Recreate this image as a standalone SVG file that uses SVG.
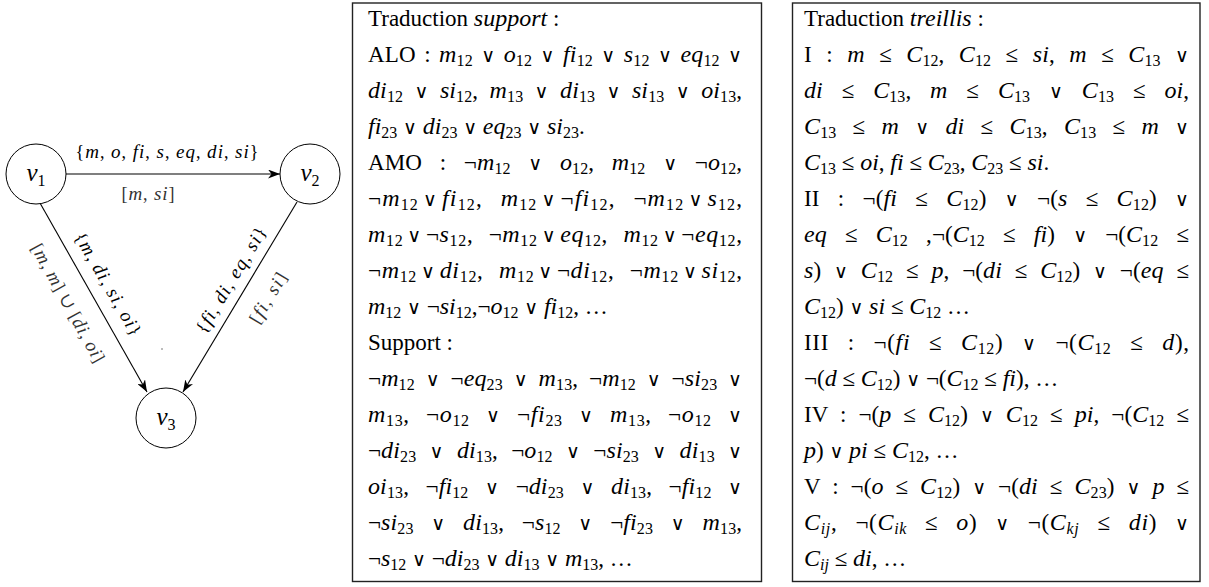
<svg xmlns="http://www.w3.org/2000/svg" width="1209" height="587" viewBox="0 0 1209 587">
<style>
.t{font-family:"Liberation Serif","DejaVu Serif",serif;font-size:23px;fill:#000;font-variant-ligatures:none}
.i{font-style:italic;font-size:24px}
.s{font-size:16px;font-style:normal;baseline-shift:-4px}
.si{font-size:16px;font-style:italic;baseline-shift:-4px}
.v{font-family:"DejaVu Sans",sans-serif;font-size:19px;font-style:normal}
.box{fill:#fff;stroke:#222;stroke-width:1.4}
.node{fill:#fff;stroke:#000;stroke-width:1}
.edge{fill:none;stroke:#000;stroke-width:1.1}
.lb{font-family:"Liberation Serif","DejaVu Serif",serif;font-size:18px;fill:#000;font-variant-ligatures:none}
.lb .i{font-size:19px}
.gr{fill:#333}
.nl{font-family:"Liberation Serif","DejaVu Serif",serif;font-size:25px;font-style:italic}
.ns{font-size:16px;font-style:normal;baseline-shift:-5px}
</style>
<defs>
<marker id="arr" markerUnits="userSpaceOnUse" markerWidth="13" markerHeight="9" refX="12" refY="4.5" orient="auto">
<path d="M0,0 L12,4.5 L0,9 L3.5,4.5 z" fill="#000"/>
</marker>
</defs>
<rect width="1209" height="587" fill="#fff"/>

<g id="connectors">
<line class="edge" x1="66" y1="174" x2="280" y2="174" marker-end="url(#arr)"/>
<line class="edge" x1="40" y1="203" x2="147" y2="392" marker-end="url(#arr)"/>
<line class="edge" x1="297" y1="202" x2="183" y2="392" marker-end="url(#arr)"/>
<text class="lb" x="167" y="158" text-anchor="middle" textLength="183" lengthAdjust="spacing">{<tspan class="i">m</tspan>, <tspan class="i">o</tspan>, <tspan class="i">fi</tspan>, <tspan class="i">s</tspan>, <tspan class="i">eq</tspan>, <tspan class="i">di</tspan>, <tspan class="i">si</tspan>}</text>
<text class="lb gr" x="148" y="200" text-anchor="middle" textLength="53" lengthAdjust="spacing">[<tspan class="i">m</tspan>, <tspan class="i">si</tspan>]</text>
<g transform="translate(108,284) rotate(60)"><text class="lb" x="0" y="6" text-anchor="middle" textLength="116" lengthAdjust="spacing">{<tspan class="i">m</tspan>, <tspan class="i">di</tspan>, <tspan class="i">si</tspan>, <tspan class="i">oi</tspan>}</text></g>
<g transform="translate(68,303) rotate(61)"><text class="lb gr" x="0" y="6" text-anchor="middle" textLength="133" lengthAdjust="spacing">[<tspan class="i">m</tspan>, <tspan class="i">m</tspan>] ∪ [<tspan class="i">di</tspan>, <tspan class="i">oi</tspan>]</text></g>
<g transform="translate(231,280) rotate(-59)"><text class="lb" x="0" y="6" text-anchor="middle" textLength="120" lengthAdjust="spacing">{<tspan class="i">fi</tspan>, <tspan class="i">di</tspan>, <tspan class="i">eq</tspan>, <tspan class="i">si</tspan>}</text></g>
<g transform="translate(268,298) rotate(-59)"><text class="lb gr" x="0" y="6" text-anchor="middle" textLength="56" lengthAdjust="spacing">[<tspan class="i">fi</tspan>, <tspan class="i">si</tspan>]</text></g>
<circle cx="162" cy="349" r="0.8" fill="#666"/>
</g>

<g id="node-v1"><circle class="node" cx="36" cy="174" r="30"/><text class="nl" x="36" y="181" text-anchor="middle">v<tspan class="ns">1</tspan></text></g>
<g id="node-v2"><circle class="node" cx="310" cy="174" r="30"/><text class="nl" x="310" y="181" text-anchor="middle">v<tspan class="ns">2</tspan></text></g>
<g id="node-v3"><circle class="node" cx="166" cy="418" r="30"/><text class="nl" x="166" y="425" text-anchor="middle">v<tspan class="ns">3</tspan></text></g>

<g id="box-support">
<rect class="box" x="352.5" y="3" width="409" height="578.5"/>
<text class="t" x="368" y="26">Traduction <tspan class="i">support</tspan> :</text>
<text class="t" x="368" y="62" style="word-spacing:2.5px" textLength="374" lengthAdjust="spacing">ALO : <tspan class="i">m</tspan><tspan class="s">12</tspan> <tspan class="v">∨</tspan> <tspan class="i">o</tspan><tspan class="s">12</tspan> <tspan class="v">∨</tspan> <tspan class="i">fi</tspan><tspan class="s">12</tspan> <tspan class="v">∨</tspan> <tspan class="i">s</tspan><tspan class="s">12</tspan> <tspan class="v">∨</tspan> <tspan class="i">eq</tspan><tspan class="s">12</tspan> <tspan class="v">∨</tspan></text>
<text class="t" x="368" y="98" style="word-spacing:5.5px" textLength="374" lengthAdjust="spacing"><tspan class="i">di</tspan><tspan class="s">12</tspan> <tspan class="v">∨</tspan> <tspan class="i">si</tspan><tspan class="s">12</tspan>, <tspan class="i">m</tspan><tspan class="s">13</tspan> <tspan class="v">∨</tspan> <tspan class="i">di</tspan><tspan class="s">13</tspan> <tspan class="v">∨</tspan> <tspan class="i">si</tspan><tspan class="s">13</tspan> <tspan class="v">∨</tspan> <tspan class="i">oi</tspan><tspan class="s">13</tspan>,</text>
<text class="t" x="368" y="134"><tspan class="i">fi</tspan><tspan class="s">23</tspan> <tspan class="v">∨</tspan> <tspan class="i">di</tspan><tspan class="s">23</tspan> <tspan class="v">∨</tspan> <tspan class="i">eq</tspan><tspan class="s">23</tspan> <tspan class="v">∨</tspan> <tspan class="i">si</tspan><tspan class="s">23</tspan>.</text>
<text class="t" x="368" y="170" style="word-spacing:11.8px" textLength="374" lengthAdjust="spacing">AMO : ¬<tspan class="i">m</tspan><tspan class="s">12</tspan> <tspan class="v">∨</tspan> <tspan class="i">o</tspan><tspan class="s">12</tspan>, <tspan class="i">m</tspan><tspan class="s">12</tspan> <tspan class="v">∨</tspan> ¬<tspan class="i">o</tspan><tspan class="s">12</tspan>,</text>
<text class="t" x="368" y="206" style="word-spacing:11px" textLength="374" lengthAdjust="spacing">¬<tspan class="i">m</tspan><tspan class="s">12</tspan><tspan class="v" dx="4">∨</tspan><tspan class="i" dx="4">fi</tspan><tspan class="s">12</tspan>, <tspan class="i">m</tspan><tspan class="s">12</tspan><tspan class="v" dx="4">∨</tspan><tspan dx="4">¬</tspan><tspan class="i">fi</tspan><tspan class="s">12</tspan>, ¬<tspan class="i">m</tspan><tspan class="s">12</tspan><tspan class="v" dx="4">∨</tspan><tspan class="i" dx="4">s</tspan><tspan class="s">12</tspan>,</text>
<text class="t" x="368" y="242" style="word-spacing:9px" textLength="374" lengthAdjust="spacing"><tspan class="i">m</tspan><tspan class="s">12</tspan><tspan class="v" dx="4">∨</tspan><tspan dx="4">¬</tspan><tspan class="i">s</tspan><tspan class="s">12</tspan>, ¬<tspan class="i">m</tspan><tspan class="s">12</tspan><tspan class="v" dx="4">∨</tspan><tspan class="i" dx="4">eq</tspan><tspan class="s">12</tspan>, <tspan class="i">m</tspan><tspan class="s">12</tspan><tspan class="v" dx="4">∨</tspan><tspan dx="4">¬</tspan><tspan class="i">eq</tspan><tspan class="s">12</tspan>,</text>
<text class="t" x="368" y="278" style="word-spacing:9px" textLength="374" lengthAdjust="spacing">¬<tspan class="i">m</tspan><tspan class="s">12</tspan><tspan class="v" dx="4">∨</tspan><tspan class="i" dx="4">di</tspan><tspan class="s">12</tspan>, <tspan class="i">m</tspan><tspan class="s">12</tspan><tspan class="v" dx="4">∨</tspan><tspan dx="4">¬</tspan><tspan class="i">di</tspan><tspan class="s">12</tspan>, ¬<tspan class="i">m</tspan><tspan class="s">12</tspan><tspan class="v" dx="4">∨</tspan><tspan class="i" dx="4">si</tspan><tspan class="s">12</tspan>,</text>
<text class="t" x="368" y="314"><tspan class="i">m</tspan><tspan class="s">12</tspan> <tspan class="v">∨</tspan> ¬<tspan class="i">si</tspan><tspan class="s">12</tspan>,¬<tspan class="i">o</tspan><tspan class="s">12</tspan> <tspan class="v">∨</tspan> <tspan class="i">fi</tspan><tspan class="s">12</tspan>, …</text>
<text class="t" x="368" y="350">Support :</text>
<text class="t" x="368" y="386" style="word-spacing:4.9px" textLength="374" lengthAdjust="spacing">¬<tspan class="i">m</tspan><tspan class="s">12</tspan> <tspan class="v">∨</tspan> ¬<tspan class="i">eq</tspan><tspan class="s">23</tspan> <tspan class="v">∨</tspan> <tspan class="i">m</tspan><tspan class="s">13</tspan>, ¬<tspan class="i">m</tspan><tspan class="s">12</tspan> <tspan class="v">∨</tspan> ¬<tspan class="i">si</tspan><tspan class="s">23</tspan> <tspan class="v">∨</tspan></text>
<text class="t" x="368" y="422" style="word-spacing:9.9px" textLength="374" lengthAdjust="spacing"><tspan class="i">m</tspan><tspan class="s">13</tspan>, ¬<tspan class="i">o</tspan><tspan class="s">12</tspan> <tspan class="v">∨</tspan> ¬<tspan class="i">fi</tspan><tspan class="s">23</tspan> <tspan class="v">∨</tspan> <tspan class="i">m</tspan><tspan class="s">13</tspan>, ¬<tspan class="i">o</tspan><tspan class="s">12</tspan> <tspan class="v">∨</tspan></text>
<text class="t" x="368" y="458" style="word-spacing:7.4px" textLength="374" lengthAdjust="spacing">¬<tspan class="i">di</tspan><tspan class="s">23</tspan> <tspan class="v">∨</tspan> <tspan class="i">di</tspan><tspan class="s">13</tspan>, ¬<tspan class="i">o</tspan><tspan class="s">12</tspan> <tspan class="v">∨</tspan> ¬<tspan class="i">si</tspan><tspan class="s">23</tspan> <tspan class="v">∨</tspan> <tspan class="i">di</tspan><tspan class="s">13</tspan> <tspan class="v">∨</tspan></text>
<text class="t" x="368" y="494" style="word-spacing:10.7px" textLength="374" lengthAdjust="spacing"><tspan class="i">oi</tspan><tspan class="s">13</tspan>, ¬<tspan class="i">fi</tspan><tspan class="s">12</tspan> <tspan class="v">∨</tspan> ¬<tspan class="i">di</tspan><tspan class="s">23</tspan> <tspan class="v">∨</tspan> <tspan class="i">di</tspan><tspan class="s">13</tspan>, ¬<tspan class="i">fi</tspan><tspan class="s">12</tspan> <tspan class="v">∨</tspan></text>
<text class="t" x="368" y="530" style="word-spacing:11.9px" textLength="374" lengthAdjust="spacing">¬<tspan class="i">si</tspan><tspan class="s">23</tspan> <tspan class="v">∨</tspan> <tspan class="i">di</tspan><tspan class="s">13</tspan>, ¬<tspan class="i">s</tspan><tspan class="s">12</tspan> <tspan class="v">∨</tspan> ¬<tspan class="i">fi</tspan><tspan class="s">23</tspan> <tspan class="v">∨</tspan> <tspan class="i">m</tspan><tspan class="s">13</tspan>,</text>
<text class="t" x="368" y="566">¬<tspan class="i">s</tspan><tspan class="s">12</tspan> <tspan class="v">∨</tspan> ¬<tspan class="i">di</tspan><tspan class="s">23</tspan> <tspan class="v">∨</tspan> <tspan class="i">di</tspan><tspan class="s">13</tspan> <tspan class="v">∨</tspan> <tspan class="i">m</tspan><tspan class="s">13</tspan>, …</text>
</g>

<g id="box-treillis">
<rect class="box" x="792.5" y="3" width="407.5" height="578.5"/>
<text class="t" x="804" y="26">Traduction <tspan class="i">treillis</tspan> :</text>
<text class="t" x="804" y="62" style="word-spacing:8.7px" textLength="385" lengthAdjust="spacing">I : <tspan class="i">m</tspan> ≤ <tspan class="i">C</tspan><tspan class="s">12</tspan>, <tspan class="i">C</tspan><tspan class="s">12</tspan> ≤ <tspan class="i">si</tspan>, <tspan class="i">m</tspan> ≤ <tspan class="i">C</tspan><tspan class="s">13</tspan> <tspan class="v">∨</tspan></text>
<text class="t" x="804" y="98" style="word-spacing:13px" textLength="385" lengthAdjust="spacing"><tspan class="i">di</tspan> ≤ <tspan class="i">C</tspan><tspan class="s">13</tspan>, <tspan class="i">m</tspan> ≤ <tspan class="i">C</tspan><tspan class="s">13</tspan> <tspan class="v">∨</tspan> <tspan class="i">C</tspan><tspan class="s">13</tspan> ≤ <tspan class="i">oi</tspan>,</text>
<text class="t" x="804" y="134" style="word-spacing:10.3px" textLength="385" lengthAdjust="spacing"><tspan class="i">C</tspan><tspan class="s">13</tspan> ≤ <tspan class="i">m</tspan> <tspan class="v">∨</tspan> <tspan class="i">di</tspan> ≤ <tspan class="i">C</tspan><tspan class="s">13</tspan>, <tspan class="i">C</tspan><tspan class="s">13</tspan> ≤ <tspan class="i">m</tspan> <tspan class="v">∨</tspan></text>
<text class="t" x="804" y="170"><tspan class="i">C</tspan><tspan class="s">13</tspan> ≤ <tspan class="i">oi</tspan>, <tspan class="i">fi</tspan> ≤ <tspan class="i">C</tspan><tspan class="s">23</tspan>, <tspan class="i">C</tspan><tspan class="s">23</tspan> ≤ <tspan class="i">si</tspan>.</text>
<text class="t" x="804" y="206" style="word-spacing:12.3px" textLength="385" lengthAdjust="spacing">II : ¬(<tspan class="i">fi</tspan> ≤ <tspan class="i">C</tspan><tspan class="s">12</tspan>) <tspan class="v">∨</tspan> ¬(<tspan class="i">s</tspan> ≤ <tspan class="i">C</tspan><tspan class="s">12</tspan>) <tspan class="v">∨</tspan></text>
<text class="t" x="804" y="242" style="word-spacing:12.3px" textLength="385" lengthAdjust="spacing"><tspan class="i">eq</tspan> ≤ <tspan class="i">C</tspan><tspan class="s">12</tspan> ,¬(<tspan class="i">C</tspan><tspan class="s">12</tspan> ≤ <tspan class="i">fi</tspan>) <tspan class="v">∨</tspan> ¬(<tspan class="i">C</tspan><tspan class="s">12</tspan> ≤</text>
<text class="t" x="804" y="278" style="word-spacing:6.9px" textLength="385" lengthAdjust="spacing"><tspan class="i">s</tspan>) <tspan class="v">∨</tspan> <tspan class="i">C</tspan><tspan class="s">12</tspan> ≤ <tspan class="i">p</tspan>, ¬(<tspan class="i">di</tspan> ≤ <tspan class="i">C</tspan><tspan class="s">12</tspan>) <tspan class="v">∨</tspan> ¬(<tspan class="i">eq</tspan> ≤</text>
<text class="t" x="804" y="314"><tspan class="i">C</tspan><tspan class="s">12</tspan>) <tspan class="v">∨</tspan> <tspan class="i">si</tspan> ≤ <tspan class="i">C</tspan><tspan class="s">12</tspan> …</text>
<text class="t" x="804" y="350" style="word-spacing:12.3px" textLength="385" lengthAdjust="spacing">III : ¬(<tspan class="i">fi</tspan> ≤ <tspan class="i">C</tspan><tspan class="s">12</tspan>) <tspan class="v">∨</tspan> ¬(<tspan class="i">C</tspan><tspan class="s">12</tspan> ≤ <tspan class="i">d</tspan>),</text>
<text class="t" x="804" y="386">¬(<tspan class="i">d</tspan> ≤ <tspan class="i">C</tspan><tspan class="s">12</tspan>) <tspan class="v">∨</tspan> ¬(<tspan class="i">C</tspan><tspan class="s">12</tspan> ≤ <tspan class="i">fi</tspan>), …</text>
<text class="t" x="804" y="422" style="word-spacing:6.1px" textLength="385" lengthAdjust="spacing">IV : ¬(<tspan class="i">p</tspan> ≤ <tspan class="i">C</tspan><tspan class="s">12</tspan>) <tspan class="v">∨</tspan> <tspan class="i">C</tspan><tspan class="s">12</tspan> ≤ <tspan class="i">pi</tspan>, ¬(<tspan class="i">C</tspan><tspan class="s">12</tspan> ≤</text>
<text class="t" x="804" y="458"><tspan class="i">p</tspan>) <tspan class="v">∨</tspan> <tspan class="i">pi</tspan> ≤ <tspan class="i">C</tspan><tspan class="s">12</tspan>, …</text>
<text class="t" x="804" y="494" style="word-spacing:6px" textLength="385" lengthAdjust="spacing">V : ¬(<tspan class="i">o</tspan> ≤ <tspan class="i">C</tspan><tspan class="s">12</tspan>) <tspan class="v">∨</tspan> ¬(<tspan class="i">di</tspan> ≤ <tspan class="i">C</tspan><tspan class="s">23</tspan>) <tspan class="v">∨</tspan> <tspan class="i">p</tspan> ≤</text>
<text class="t" x="804" y="530" style="word-spacing:11.5px" textLength="385" lengthAdjust="spacing"><tspan class="i">C</tspan><tspan class="si">ij</tspan>, ¬(<tspan class="i">C</tspan><tspan class="si">ik</tspan> ≤ <tspan class="i">o</tspan>) <tspan class="v">∨</tspan> ¬(<tspan class="i">C</tspan><tspan class="si">kj</tspan> ≤ <tspan class="i">di</tspan>) <tspan class="v">∨</tspan></text>
<text class="t" x="804" y="566"><tspan class="i">C</tspan><tspan class="si">ij</tspan> ≤ <tspan class="i">di</tspan>, …</text>
</g>
</svg>
